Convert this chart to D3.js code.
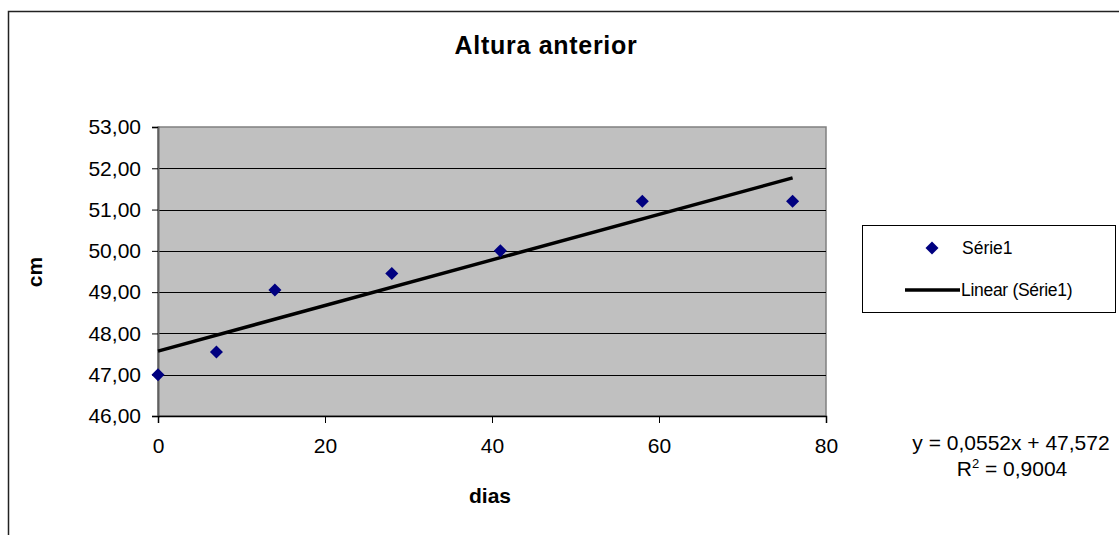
<!DOCTYPE html>
<html>
<head>
<meta charset="utf-8">
<script src="https://cdn.jsdelivr.net/npm/d3@7"></script>
<style>
  html, body { margin: 0; padding: 0; background: #fff; }
  svg { display: block; font-family: "Liberation Sans", Arial, sans-serif; }
</style>
</head>
<body>
<svg id="chart" width="1119" height="535"></svg>
<script>
// Days and measured anterior height (cm)
const dias = [0, 7, 14, 28, 41, 58, 76];
const altura = [47.0, 47.55, 49.05, 49.45, 50.0, 51.2, 51.2];
const xTicks = [0, 20, 40, 60, 80];
const yTicks = [46, 47, 48, 49, 50, 51, 52, 53];
// Linear trend reported for the series
const slope = 0.0552;
const intercept = 47.572;
const r2 = 0.9004;

const svg = d3.select("#chart");
const W = 1119, H = 535;
const FONT = "'Liberation Sans', Arial, sans-serif";

// Outer chart frame
svg.append("rect")
  .attr("x", 8.5).attr("y", 11.5)
  .attr("width", W + 10).attr("height", H + 10)
  .attr("fill", "#fff").attr("stroke", "#222").attr("stroke-width", 1.5);

const plot = { left: 158, right: 826, top: 127, bottom: 416 };
const x = d3.scaleLinear().domain([0, 80]).range([plot.left, plot.right]);
const y = d3.scaleLinear().domain([46, 53]).range([plot.bottom, plot.top]);

const fmt = v => d3.format(".2f")(v).replace(".", ",");

// Plot area
svg.append("rect")
  .attr("x", plot.left).attr("y", plot.top)
  .attr("width", plot.right - plot.left).attr("height", plot.bottom - plot.top)
  .attr("fill", "#c0c0c0").attr("stroke", "#808080").attr("stroke-width", 1.5);

// Horizontal gridlines
svg.append("g").selectAll("line")
  .data(yTicks.filter(v => v > 46 && v < 53))
  .join("line")
  .attr("x1", plot.left).attr("x2", plot.right)
  .attr("y1", d => Math.round(y(d)) + 0.5).attr("y2", d => Math.round(y(d)) + 0.5)
  .attr("stroke", "#000").attr("stroke-width", 1);

// Y axis
const yAxis = svg.append("g")
  .attr("transform", `translate(${plot.left},0)`)
  .call(d3.axisLeft(y).tickValues(yTicks).tickFormat(fmt).tickSize(6).tickPadding(11));
yAxis.select(".domain").attr("stroke", "#606060").attr("stroke-width", 2);
yAxis.selectAll(".tick line").attr("stroke", "#000");
yAxis.selectAll("text").attr("font-size", 21).attr("fill", "#000").attr("font-family", FONT);

// X axis
const xAxis = svg.append("g")
  .attr("transform", `translate(0,${plot.bottom})`)
  .call(d3.axisBottom(x).tickValues(xTicks).tickFormat(d3.format("d")).tickSize(7).tickPadding(15));
xAxis.select(".domain").attr("stroke", "#000").attr("stroke-width", 1.5);
xAxis.selectAll(".tick line").attr("stroke", "#000");
xAxis.selectAll("text").attr("font-size", 21).attr("fill", "#000").attr("font-family", FONT);

// Trend line
const trendX = [d3.min(dias), d3.max(dias)];
svg.append("line")
  .attr("x1", x(trendX[0])).attr("y1", y(intercept + slope * trendX[0]))
  .attr("x2", x(trendX[1])).attr("y2", y(intercept + slope * trendX[1]))
  .attr("stroke", "#000").attr("stroke-width", 3.5);

// Data points as diamonds
const diamond = d3.symbol().type(d3.symbolSquare).size(85);
svg.append("g").selectAll("path")
  .data(dias.map((d, i) => [d, altura[i]]))
  .join("path")
  .attr("d", diamond)
  .attr("transform", d => `translate(${x(d[0])},${y(d[1])}) rotate(45)`)
  .attr("fill", "#000080");

// Title and axis titles
svg.append("text").attr("x", 546).attr("y", 54).attr("text-anchor", "middle")
  .attr("font-size", 25).attr("font-weight", "bold").attr("letter-spacing", 0.7)
  .text("Altura anterior");
svg.append("text").attr("x", 490).attr("y", 503).attr("text-anchor", "middle")
  .attr("font-size", 21).attr("font-weight", "bold").text("dias");
svg.append("text").attr("transform", "translate(42,272) rotate(-90)")
  .attr("text-anchor", "middle").attr("font-size", 21).attr("font-weight", "bold").text("cm");

// Legend
const lg = svg.append("g");
lg.append("rect").attr("x", 862.5).attr("y", 225.5).attr("width", 253).attr("height", 87)
  .attr("fill", "#fff").attr("stroke", "#000").attr("stroke-width", 1);
lg.append("path").attr("d", diamond)
  .attr("transform", "translate(932,248) rotate(45)").attr("fill", "#000080");
lg.append("text").attr("x", 962).attr("y", 254).attr("font-size", 17.5).text("Série1");
lg.append("line").attr("x1", 905).attr("x2", 960).attr("y1", 290).attr("y2", 290)
  .attr("stroke", "#000").attr("stroke-width", 3.5);
lg.append("text").attr("x", 961).attr("y", 296).attr("font-size", 17.5)
  .attr("letter-spacing", -0.3).text("Linear (Série1)");

// Regression equation
const num = (v, d) => d3.format(`.${d}f`)(v).replace(".", ",");
svg.append("text").attr("x", 1011).attr("y", 450).attr("text-anchor", "middle")
  .attr("font-size", 21).text(`y = ${num(slope, 4)}x + ${num(intercept, 3)}`);
const r2t = svg.append("text").attr("x", 1012).attr("y", 476).attr("text-anchor", "middle")
  .attr("font-size", 21);
r2t.append("tspan").text("R");
r2t.append("tspan").attr("font-size", 13).attr("dy", -8).text("2");
r2t.append("tspan").attr("dy", 8).text(` = ${num(r2, 4)}`);
</script>
</body>
</html>
